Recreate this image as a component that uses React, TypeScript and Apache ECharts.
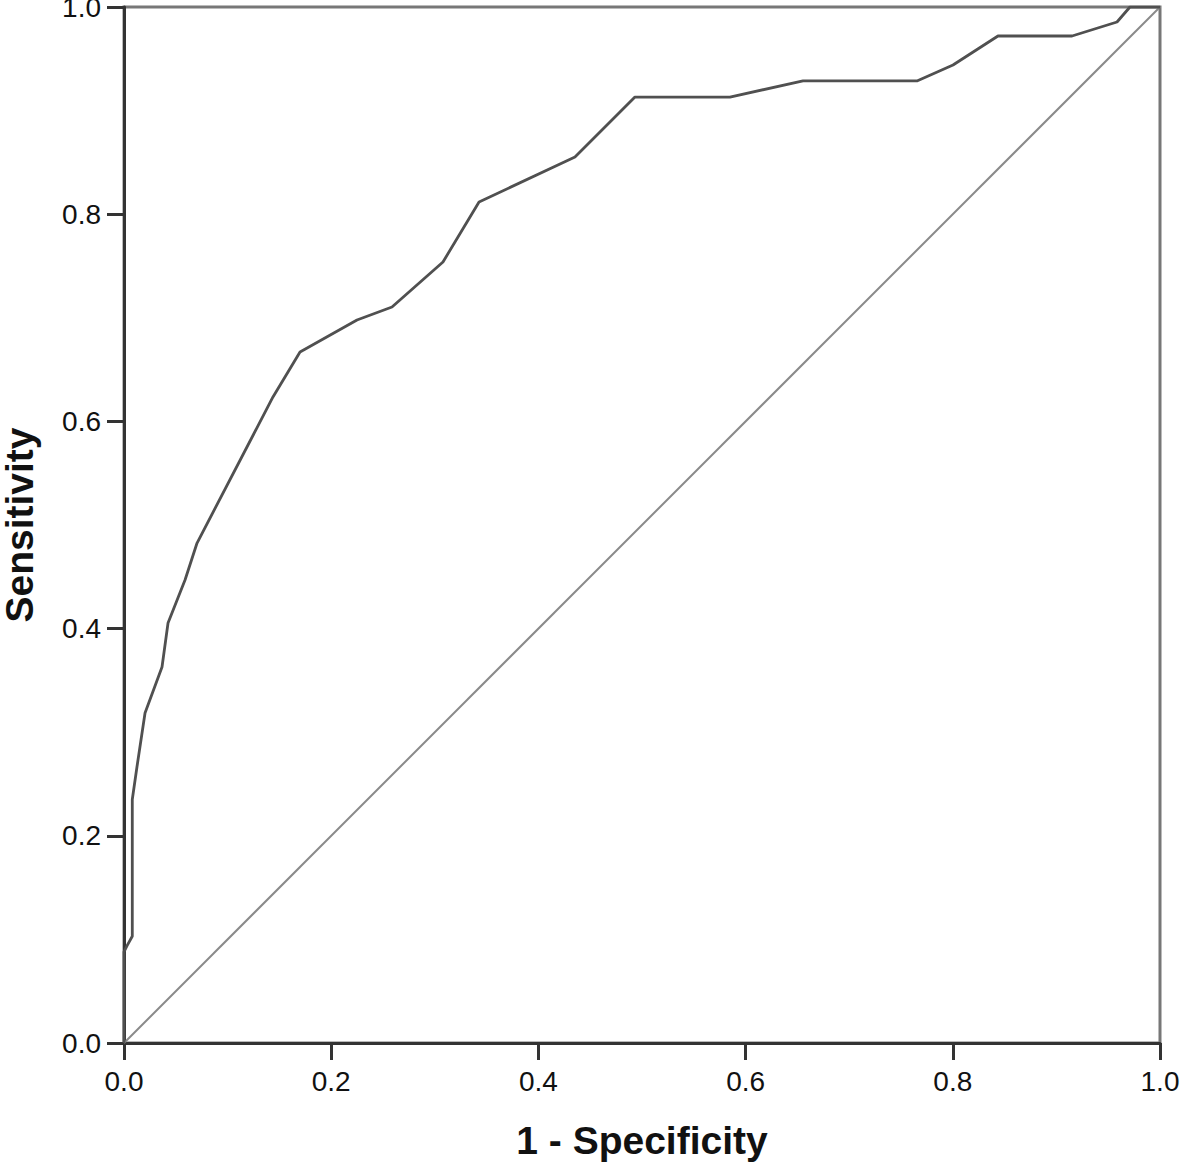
import React, { useEffect, useRef } from "react";
import * as echarts from "echarts";

const fpr = [0, 0, 0.003, 0.008, 0.008, 0.0125, 0.0203, 0.0367, 0.0425, 0.0589, 0.0705, 0.1438, 0.1699, 0.2249, 0.2587, 0.3079, 0.3427, 0.4353, 0.4932, 0.5849, 0.6554, 0.7654, 0.8002, 0.8436, 0.9151, 0.9585, 0.971, 1];
const tpr = [0, 0.088, 0.094, 0.103, 0.235, 0.2664, 0.3185, 0.3629, 0.4054, 0.4469, 0.4826, 0.6236, 0.667, 0.6979, 0.7104, 0.7539, 0.8118, 0.8552, 0.9131, 0.9131, 0.9286, 0.9286, 0.944, 0.972, 0.972, 0.9855, 1, 1];
const refX = [0, 1];
const refY = [0, 1];
const xTitle = "1 - Specificity";
const yTitle = "Sensitivity";

export default function App() {
  const ref = useRef<HTMLDivElement>(null);
  useEffect(() => {
    if (!ref.current) return;
    const chart = echarts.init(ref.current, null, { renderer: "svg" });
    const font = "'Liberation Sans', Arial, sans-serif";
    const axisCommon = {
      type: "value",
      min: 0,
      max: 1,
      interval: 0.2,
      splitLine: { show: false },
      axisLine: { show: true, lineStyle: { color: "#333", width: 3 } },
      axisTick: { show: true, inside: false, length: 17, lineStyle: { color: "#333", width: 3 } },
      axisLabel: {
        color: "#111",
        fontSize: 28,
        fontFamily: font,
        formatter: (v: number) => v.toFixed(1),
      },
      nameLocation: "middle",
      nameTextStyle: { color: "#111", fontSize: 39, fontWeight: "bold", fontFamily: font },
    };
    chart.setOption({
      animation: false,
      backgroundColor: "#fff",
      grid: {
        left: 124,
        top: 7,
        width: 1036,
        height: 1036,
        containLabel: false,
        outerBoundsMode: "none",
        show: true,
        borderColor: "#777",
        borderWidth: 3,
        backgroundColor: "transparent",
      },
      xAxis: {
        ...axisCommon,
        name: xTitle,
        nameGap: 78,
        axisLabel: { ...axisCommon.axisLabel, margin: 24 },
      },
      yAxis: {
        ...axisCommon,
        name: yTitle,
        nameGap: 85,
        axisLabel: { ...axisCommon.axisLabel, margin: 23, padding: [6, 0, 0, 0] },
      },
      series: [
        {
          type: "line",
          data: refX.map((x, i) => [x, refY[i]]),
          showSymbol: false,
          lineStyle: { color: "#8a8a8a", width: 2 },
          z: 2,
        },
        {
          type: "line",
          data: fpr.map((x, i) => [x, tpr[i]]),
          showSymbol: false,
          lineStyle: { color: "#505050", width: 2.8 },
          z: 3,
        },
      ],
    });
    return () => chart.dispose();
  }, []);
  return (
    <div
      ref={ref}
      style={{ position: "absolute", left: 0, top: 0, width: 1181, height: 1170 }}
    />
  );
}
